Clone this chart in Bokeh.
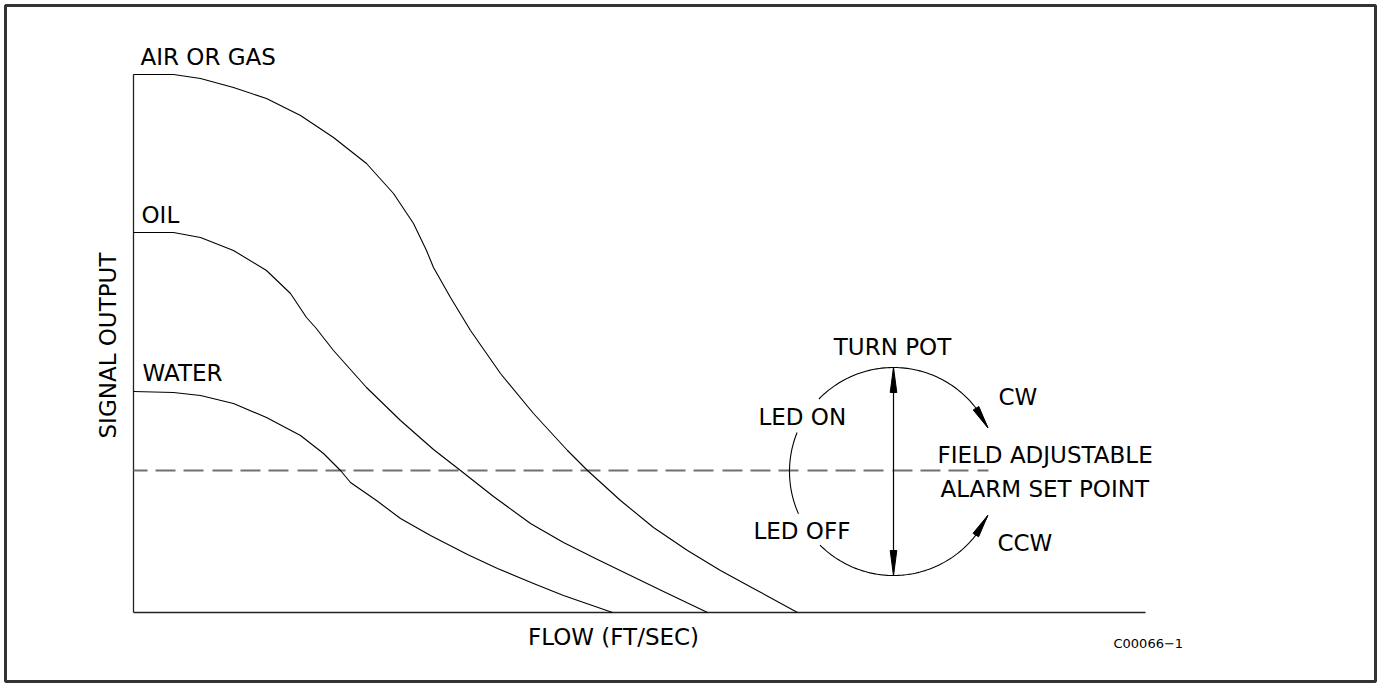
import numpy as np
from bokeh.plotting import figure
from bokeh.models import Range1d
from bokeh.core.properties import value
from bokeh.embed import file_html
from bokeh.resources import INLINE

# ---------------- data (flow vs signal, arbitrary units) ----------------
air_flow = [0, 40, 67, 100, 133, 167, 200, 233, 260, 280, 293, 300, 317, 337, 367, 400, 434, 454, 487, 520, 554, 587, 620, 664]
air_signal = [538, 538, 534, 525, 514, 497, 475, 449, 419, 389, 362, 345, 315, 282, 239, 199, 162, 142, 112, 85, 62, 42, 24, 0]

oil_flow = [0, 40, 67, 100, 133, 157, 173, 182, 200, 233, 267, 300, 327, 360, 397, 430, 464, 497, 530, 574]
oil_signal = [380, 380, 375, 362, 342, 319, 295, 285, 262, 225, 192, 163, 142, 116, 89, 70, 53, 37, 21, 0]

water_flow = [0, 40, 67, 100, 133, 167, 190, 207, 217, 243, 267, 297, 334, 364, 400, 430, 479]
water_signal = [221, 220, 217, 209, 195, 177, 159, 142, 130, 112, 94, 77, 58, 44, 29, 17, 0]

setpoint_signal = 142
setpoint_flow_end = 855
axis_flow_max = 1012
axis_signal_max = 538

# dial (alarm set-point pot)
dial_x, dial_y, dial_r = 760, 141, 104
dial_arcs_deg = [(24.8, 135.8), (158, 204), (225, 335)]

# ---------------- figure ----------------
W, H = 1378, 683
p = figure(width=W, height=H, x_range=Range1d(-128, 1242), y_range=Range1d(-69, 607),
           output_backend="svg", toolbar_location=None, x_axis_type=None, y_axis_type=None,
           min_border_left=5, min_border_right=3, min_border_top=5, min_border_bottom=2)
p.grid.visible = False
p.outline_line_color = "#333333"
p.outline_line_width = 3
p.background_fill_color = "white"
p.border_fill_color = "white"

# axes drawn as lines
p.line([0, 0], [0, axis_signal_max], line_color="#222222", line_width=1.3)
p.line([0, axis_flow_max], [0, 0], line_color="#222222", line_width=1.3)

# set point dashed line
p.line([0, setpoint_flow_end], [setpoint_signal, setpoint_signal], line_color="#707070",
       line_width=1.8, line_dash="20 8 20 8 20 9", line_dash_offset=6)

# curves
for fx, sy in [(air_flow, air_signal), (oil_flow, oil_signal), (water_flow, water_signal)]:
    p.line(fx, sy, line_color="black", line_width=1.1, line_join="round")

# dial arcs
for a0, a1 in dial_arcs_deg:
    t = np.radians(np.linspace(a0, a1, 80))
    p.line(dial_x + dial_r * np.cos(t), dial_y + dial_r * np.sin(t), line_color="black", line_width=1.1)

# vertical double arrow
p.line([dial_x, dial_x], [dial_y - dial_r, dial_y + dial_r], line_color="black", line_width=1.2)


def head(tip, base, hw):
    tx, ty = tip
    bx, by = base
    dx, dy = tx - bx, ty - by
    n = np.hypot(dx, dy)
    nx, ny = -dy / n, dx / n
    return [tx, bx + nx * hw, bx - nx * hw], [ty, by + ny * hw, by - ny * hw]


heads_x, heads_y = [], []
L_v = 25
for sgn in (1, -1):
    tip = (dial_x, dial_y + sgn * dial_r)
    base = (dial_x, dial_y + sgn * (dial_r - L_v))
    hx, hy = head(tip, base, 3.3)
    heads_x.append(hx); heads_y.append(hy)

L_a = 23
for ang, d in ((dial_arcs_deg[0][0], 1), (dial_arcs_deg[2][1], -1)):
    th = np.radians(ang)
    tb = th + d * L_a / dial_r
    tip = (dial_x + dial_r * np.cos(th), dial_y + dial_r * np.sin(th))
    base = (dial_x + dial_r * np.cos(tb), dial_y + dial_r * np.sin(tb))
    hx, hy = head(tip, base, 3.3)
    heads_x.append(hx); heads_y.append(hy)

p.patches(heads_x, heads_y, fill_color="black", line_color="black", line_width=1)

# ---------------- labels ----------------
FONT = value("DejaVu Sans")
left_labels = [
    ("AIR OR GAS", 7, 556),
    ("OIL", 8, 398),
    ("WATER", 9, 240),
    ("CW", 865, 216),
    ("LED ON", 625, 196),
    ("FIELD ADJUSTABLE", 804, 158),
    ("ALARM SET POINT", 807, 124),
    ("LED OFF", 620, 82),
    ("CCW", 864, 70),
]
p.text(x=[l[1] for l in left_labels], y=[l[2] for l in left_labels], text=[l[0] for l in left_labels],
       text_font=FONT, text_font_size="23px", text_color="black",
       text_align="left", text_baseline="alphabetic")

p.text(x=[759, 480], y=[266, -24], text=["TURN POT", "FLOW (FT/SEC)"],
       text_font=FONT, text_font_size="23px", text_color="black",
       text_align="center", text_baseline="alphabetic")

p.text(x=[-26], y=[267], text=["SIGNAL OUTPUT"], angle=np.pi / 2,
       text_font=FONT, text_font_size="23px", text_color="black",
       text_align="center", text_baseline="alphabetic")

p.text(x=[980], y=[-31], text=["C00066\u22121"],
       text_font=FONT, text_font_size="13px", text_color="black",
       text_align="left", text_baseline="alphabetic")

open("out.html", "w").write(file_html(p, INLINE))
